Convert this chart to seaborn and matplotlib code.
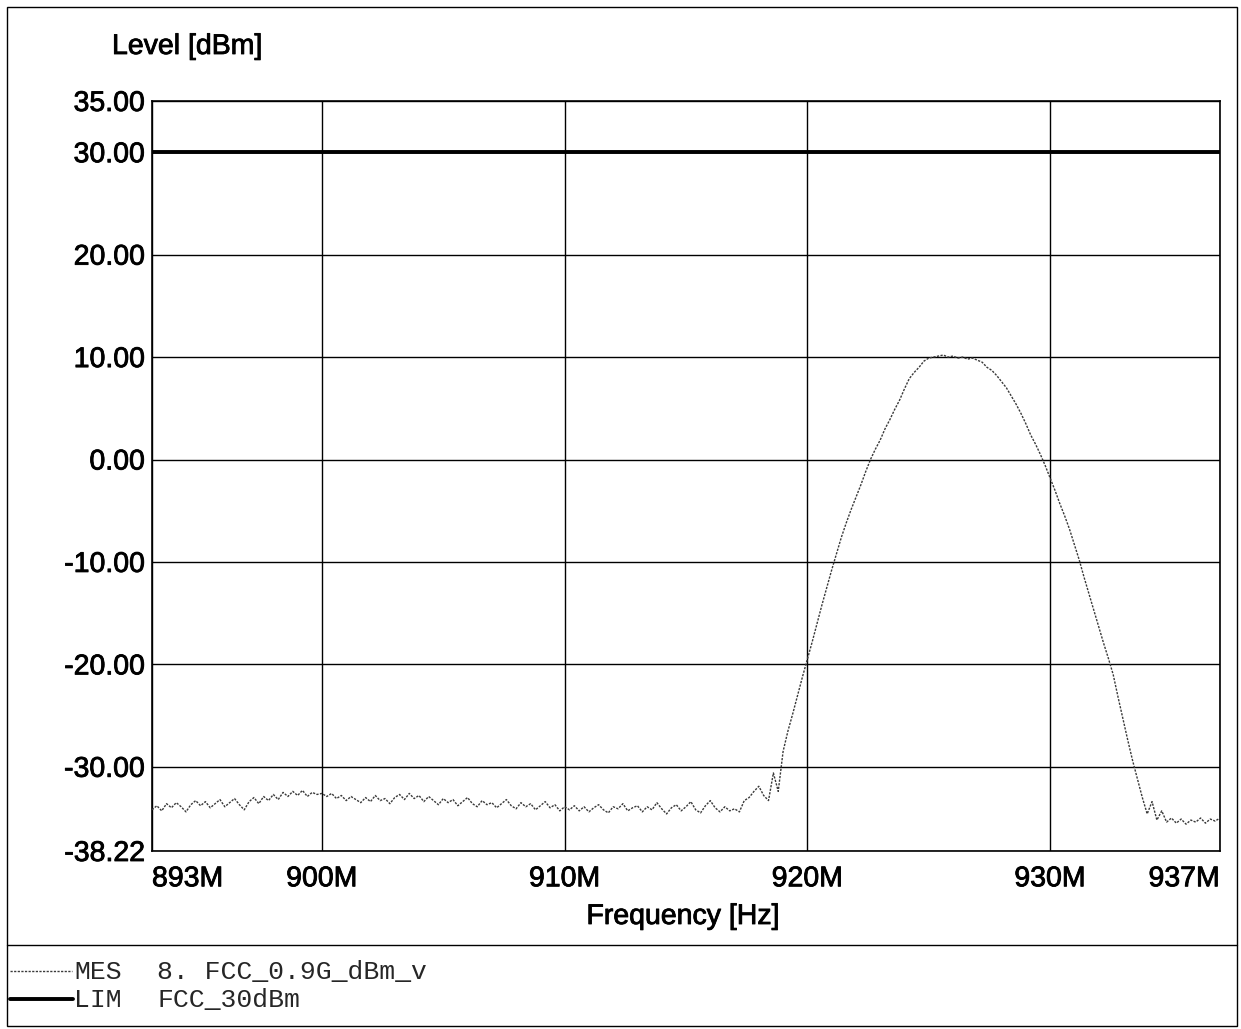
import numpy as np
import pandas as pd
import matplotlib
matplotlib.use("Agg")
import matplotlib.pyplot as plt
from matplotlib.lines import Line2D
from matplotlib.patches import Rectangle
import matplotlib.patheffects as pe
import seaborn as sns

# ---- data ----
# sweep 893.0 .. 937.0 MHz, 0.2 MHz steps
level_a = [  # 893.0 - 900.0
    -34.2, -33.8, -34.3, -33.6, -34.0, -33.5, -33.9, -34.4, -33.7, -33.3,
    -33.8, -33.4, -34.0, -33.6, -33.2, -33.9, -33.5, -33.1, -33.7, -34.2,
    -33.4, -33.0, -33.6, -32.9, -33.3, -32.7, -33.2, -32.5, -32.9, -32.4,
    -32.8, -32.3, -32.9, -32.5, -32.7, -32.6]
level_b = [  # 900.2 - 910.0
    -32.9, -32.6, -33.1, -32.8, -33.3, -32.9, -33.2, -33.5, -33.0, -33.4,
    -32.8, -33.3, -33.1, -33.6, -33.0, -32.7, -33.2, -32.6, -33.1, -32.8,
    -33.4, -32.9, -33.3, -33.7, -33.1, -33.5, -33.2, -33.8, -33.4, -33.0,
    -33.6, -33.9, -33.3, -33.7, -33.5, -34.0, -33.6, -33.2, -33.8, -34.1,
    -33.5, -33.9, -33.6, -34.2, -33.8, -33.4, -34.0, -33.7, -34.3, -33.9]
level_c = [  # 910.2 - 917.2
    -34.2, -33.8, -34.3, -33.9, -34.4, -34.0, -33.7, -34.2, -34.5, -33.9,
    -34.1, -33.6, -34.3, -34.0, -33.8, -34.4, -33.9, -34.2, -33.5, -34.1,
    -34.6, -34.0, -33.7, -34.3, -33.9, -33.4, -34.2, -34.5, -33.8, -33.3,
    -34.0, -34.4, -33.9, -34.3, -34.1, -34.4]
level_d = [  # 917.4 - 937.0
    -33.3, -33.0, -32.4, -31.9, -32.8, -33.3, -30.6, -32.4, -28.5, -26.5,
    -24.8, -23.0, -21.2, -19.5, -17.8, -16.0, -14.2, -12.5, -10.8, -9.2,
    -7.6, -6.2, -4.9, -3.7, -2.5, -1.2, 0.0, 1.0, 1.9, 3.0,
    3.9, 4.9, 5.8, 6.9, 7.9, 8.5, 9.0, 9.6, 9.9, 10.0,
    10.1, 10.2, 10.0, 10.1, 9.9, 10.0, 9.8, 9.9, 9.7, 9.5,
    9.0, 8.7, 8.2, 7.6, 7.0, 6.2, 5.4, 4.5, 3.5, 2.4,
    1.5, 0.5, -0.6, -1.8, -3.0, -4.3, -5.5, -6.8, -8.3, -9.8,
    -11.5, -13.1, -14.7, -16.3, -17.9, -19.4, -21.0, -23.2, -25.3, -27.4,
    -29.4, -31.2, -33.0, -34.6, -33.4, -35.2, -34.3, -35.4, -35.0, -35.5,
    -35.1, -35.6, -35.2, -35.4, -35.0, -35.5, -35.1, -35.3, -35.0]
mes_level = level_a + level_b + level_c + level_d
f_start, f_stop = 893.0, 937.0
mes_freq = np.linspace(f_start, f_stop, len(mes_level))

lim_freq = [893.0, 937.0]
lim_level = [30.0, 30.0]

x_ticks = [893, 900, 910, 920, 930, 937]
x_labels = ["893M", "900M", "910M", "920M", "930M", "937M"]
y_ticks = [35, 30, 20, 10, 0, -10, -20, -30, -38.22]
y_labels = ["35.00", "30.00", "20.00", "10.00", "0.00", "-10.00", "-20.00", "-30.00", "-38.22"]

legend_names = ["MES", "LIM"]
legend_texts = ["8. FCC_0.9G_dBm_v", "FCC_30dBm"]

# ---- figure ----
sns.set_theme(style="white")
plt.rcParams["font.family"] = ["Liberation Sans", "DejaVu Sans"]

W, H = 1241, 1029
fig = plt.figure(figsize=(W / 100, H / 100), dpi=100)
fig.patch.set_facecolor("white")

def fx(px):
    return px / W

def fy(py):
    return 1 - py / H

thick = [pe.withStroke(linewidth=0.6, foreground="black")]
FS = 20.5

ax = fig.add_axes([fx(152), fy(851), fx(1220) - fx(152), fy(101) - fy(851)])

mes_df = pd.DataFrame({"Frequency": mes_freq, "Level": mes_level})
lim_df = pd.DataFrame({"Frequency": lim_freq, "Level": lim_level})

sns.lineplot(data=mes_df, x="Frequency", y="Level", ax=ax, color="#3a3a3a",
             linewidth=1.0, linestyle=(0, (1.6, 1.0)), zorder=3)
sns.lineplot(data=lim_df, x="Frequency", y="Level", ax=ax, color="black",
             linewidth=2.8, zorder=4)

ax.set_xlim(f_start, f_stop)
ax.set_ylim(-38.22, 35)
ax.set_xticks(x_ticks)
ax.set_xticklabels(x_labels)
ax.set_yticks(y_ticks)
ax.set_yticklabels(y_labels)
ax.tick_params(axis="both", labelsize=FS, colors="black")
ax.tick_params(axis="y", length=3, width=1.0, direction="out", pad=2)
ax.tick_params(axis="x", length=0, pad=11)
for t in ax.get_xticklabels() + ax.get_yticklabels():
    t.set_path_effects(thick)
xl = ax.get_xticklabels()
xl[0].set_horizontalalignment("left")
xl[-1].set_horizontalalignment("right")
ax.grid(True, color="black", linewidth=1.0)
for s in ax.spines.values():
    s.set_color("black")
    s.set_linewidth(1.2)
ax.set_xlabel("")
ax.set_ylabel("")

fig.text(fx(112), fy(47), "Level [dBm]", fontsize=FS, ha="left", va="center",
         color="black", path_effects=thick)
fig.text(fx(683), fy(917), "Frequency [Hz]", fontsize=FS, ha="center", va="center",
         color="black", path_effects=thick)

# outer frame and legend separator
fig.add_artist(Rectangle((fx(7), fy(1026)), fx(1237) - fx(7), fy(7) - fy(1026),
                         transform=fig.transFigure, fill=False, edgecolor="black", linewidth=1.0))
fig.add_artist(Line2D([fx(7), fx(1237)], [fy(945), fy(945)], transform=fig.transFigure,
                      color="black", linewidth=1.0))

# legend keys
fig.add_artist(Line2D([fx(10), fx(72)], [fy(971), fy(971)], transform=fig.transFigure,
                      color="#3a3a3a", linewidth=1.0, linestyle=(0, (1.6, 1.0))))
fig.add_artist(Line2D([fx(10), fx(73)], [fy(999), fy(999)], transform=fig.transFigure,
                      color="black", linewidth=2.8))
mono = ["Liberation Mono", "DejaVu Sans Mono"]
MFS = 19
fig.text(fx(74), fy(972), legend_names[0], family=mono, fontsize=MFS, ha="left", va="center")
fig.text(fx(74), fy(1000), legend_names[1], family=mono, fontsize=MFS, ha="left", va="center")
fig.text(fx(157), fy(972), legend_texts[0], family=mono, fontsize=MFS, ha="left", va="center")
fig.text(fx(157), fy(1000), legend_texts[1], family=mono, fontsize=MFS, ha="left", va="center")

fig.savefig("out.png", dpi=100, facecolor="white")
